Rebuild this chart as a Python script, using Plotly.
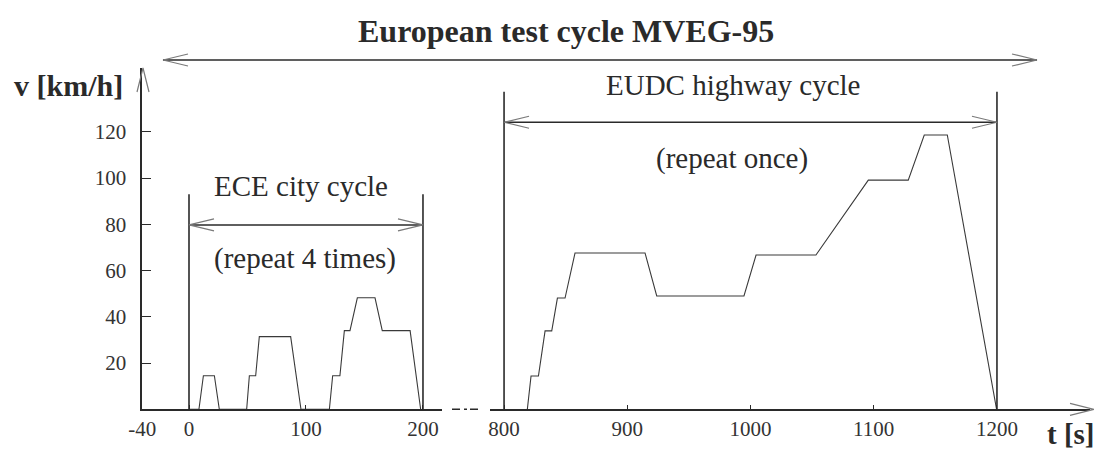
import plotly.graph_objects as go

# ---------------- data ----------------
# ECE city cycle (elementary urban cycle), t in s, v in km/h
ece_t = [0, 8.5, 12.3, 21.7, 25.9, 49.3, 51.6, 57.0, 60.1, 86.9, 95.7,
         120.0, 122.8, 129.0, 132.8, 137.6, 143.9, 159.0, 165.2, 189.0, 198.0]
ece_v = [0, 0, 14.5, 14.5, 0, 0, 14.5, 14.5, 31.4, 31.4, 0,
         0, 14.5, 14.5, 34.0, 34.0, 48.2, 48.2, 34.0, 34.0, 0]

# EUDC highway cycle
eudc_t = [818.9, 821.9, 827.9, 833.3, 838.7, 843.3, 849.5, 857.6, 914.4,
          923.9, 994.7, 1004.5, 1053.1, 1095.6, 1128.0, 1141.0, 1159.7, 1199.7]
eudc_v = [0, 14.4, 14.4, 33.9, 33.9, 48.1, 48.1, 67.6, 67.6,
          49.0, 49.0, 66.7, 66.7, 99.1, 99.1, 118.6, 118.6, 0]

# cycle boundaries and brace heights
ece_bounds = [0, 200]
ece_bound_top = 93
ece_arrow_v = 79.7
eudc_bounds = [800, 1200]
eudc_bound_top = 137.3
eudc_arrow_v = 124.1

# ticks
y_ticks = [20, 40, 60, 80, 100, 120]
x1_ticks = [-40, 0, 100, 200]
x2_ticks = [800, 900, 1000, 1100, 1200]

# page body has an 8px margin: the figure is laid out in window pixels
OX, OY = 8, 8
W, H = 1102 - OX, 452 - OY
SERIF = "Liberation Serif, Times New Roman, serif"
AX = "#2a2a2a"
LINE = "#3a3a3a"
HEAD = "#7a7a7a"
TXT = "#2a2a2a"


def px(x):
    return (x - OX) / W


def py(y):
    return 1 - (y - OY) / H


fig = go.Figure()
fig.add_trace(go.Scatter(x=ece_t, y=ece_v, mode="lines", xaxis="x", yaxis="y",
                         line=dict(color=LINE, width=1.1), showlegend=False,
                         hoverinfo="skip"))
fig.add_trace(go.Scatter(x=eudc_t, y=eudc_v, mode="lines", xaxis="x2", yaxis="y",
                         line=dict(color=LINE, width=1.1), showlegend=False,
                         hoverinfo="skip"))

shapes = []


def head(xref, x, yref, y, direction, L=25, h=6):
    """Open chevron arrow head with pixel size anchored at (x, y)."""
    if direction == "right":
        path = f"M {-L},{h} L 0,0 L {-L},{-h}"
    elif direction == "left":
        path = f"M {L},{h} L 0,0 L {L},{-h}"
    else:  # up
        path = f"M {-h},{-L} L 0,0 L {h},{-L}"
    shapes.append(dict(type="path", path=path, xref=xref, yref=yref,
                       xsizemode="pixel", ysizemode="pixel",
                       xanchor=x, yanchor=y,
                       line=dict(color=HEAD, width=1.2)))


# cycle boundary verticals
for b in ece_bounds:
    shapes.append(dict(type="line", xref="x", yref="y", x0=b, x1=b, y0=0,
                       y1=ece_bound_top, line=dict(color=AX, width=1.6)))
for b in eudc_bounds:
    shapes.append(dict(type="line", xref="x2", yref="y", x0=b, x1=b, y0=0,
                       y1=eudc_bound_top, line=dict(color=AX, width=1.6)))

# double arrows for the cycles
shapes.append(dict(type="line", xref="x", yref="y", x0=ece_bounds[0],
                   x1=ece_bounds[1], y0=ece_arrow_v, y1=ece_arrow_v,
                   line=dict(color=AX, width=1.6)))
head("x", ece_bounds[0], "y", ece_arrow_v, "left")
head("x", ece_bounds[1], "y", ece_arrow_v, "right")
shapes.append(dict(type="line", xref="x2", yref="y", x0=eudc_bounds[0],
                   x1=eudc_bounds[1], y0=eudc_arrow_v, y1=eudc_arrow_v,
                   line=dict(color=AX, width=1.6)))
head("x2", eudc_bounds[0], "y", eudc_arrow_v, "left")
head("x2", eudc_bounds[1], "y", eudc_arrow_v, "right")

# overall test-cycle arrow at the top
shapes.append(dict(type="line", xref="paper", yref="paper", x0=px(163),
                   x1=px(1037), y0=py(60), y1=py(60),
                   line=dict(color=AX, width=1.6)))
head("paper", px(163), "paper", py(60), "left")
head("paper", px(1037), "paper", py(60), "right")

# axis arrow heads
head("paper", px(143), "paper", py(68), "up", L=24, h=6)
head("paper", px(1094), "paper", py(409.3), "right", L=24, h=6)

# broken-axis dashes
shapes.append(dict(type="line", xref="paper", yref="paper", x0=px(452),
                   x1=px(481), y0=py(409.3), y1=py(409.3),
                   line=dict(color=AX, width=1.6, dash="8px,4px,3px,3px")))


def label(text, x, y, size, xref="paper", yref="paper"):
    return dict(text=text, xref=xref, yref=yref, x=x, y=y, showarrow=False,
                xanchor="center", yanchor="middle",
                font=dict(family=SERIF, size=size, color=TXT))


annotations = [
    label("<b>European test cycle MVEG-95</b>", px(566), py(31), 32),
    label("<b>v [km/h]</b>", px(68), py(86), 30),
    label("<b>t [s]</b>", px(1071), py(434), 29),
    label("ECE city cycle", 95.7, 96.5, 29, "x", "y"),
    label("(repeat 4 times)", 99, 65.4, 29, "x", "y"),
    label("EUDC highway cycle", 985.8, 140.2, 29, "x2", "y"),
    label("(repeat once)", 985, 108.6, 29, "x2", "y"),
]

tickfont = dict(family=SERIF, size=21, color="#333")
common = dict(ticks="inside", tickcolor=AX, tickwidth=1.4,
              showline=True, linecolor=AX, linewidth=1.6,
              showgrid=False, zeroline=False, tickfont=tickfont,
              automargin=False)

fig.update_layout(
    width=W, height=H, autosize=False,
    margin=dict(l=0, r=0, t=0, b=0, pad=0, autoexpand=False),
    paper_bgcolor="white", plot_bgcolor="white",
    shapes=shapes, annotations=annotations,
    xaxis=dict(domain=[px(142.2), px(441.7)], range=[-40, 216],
               tickvals=x1_ticks, ticktext=[str(v) for v in x1_ticks],
               ticklen=5, anchor="y", **common),
    xaxis2=dict(domain=[px(490), px(1090)], range=[788.6, 1275.5],
                tickvals=x2_ticks, ticktext=[str(v) for v in x2_ticks],
                ticklen=5, anchor="y", **common),
    yaxis=dict(domain=[py(409.3), py(68)], range=[0, (409.3 - 68) / 2.313],
               tickvals=y_ticks, ticktext=[str(v) for v in y_ticks],
               ticklen=9, ticklabelstandoff=10, anchor="x", **common),
)

fig.write_html("out.html")
